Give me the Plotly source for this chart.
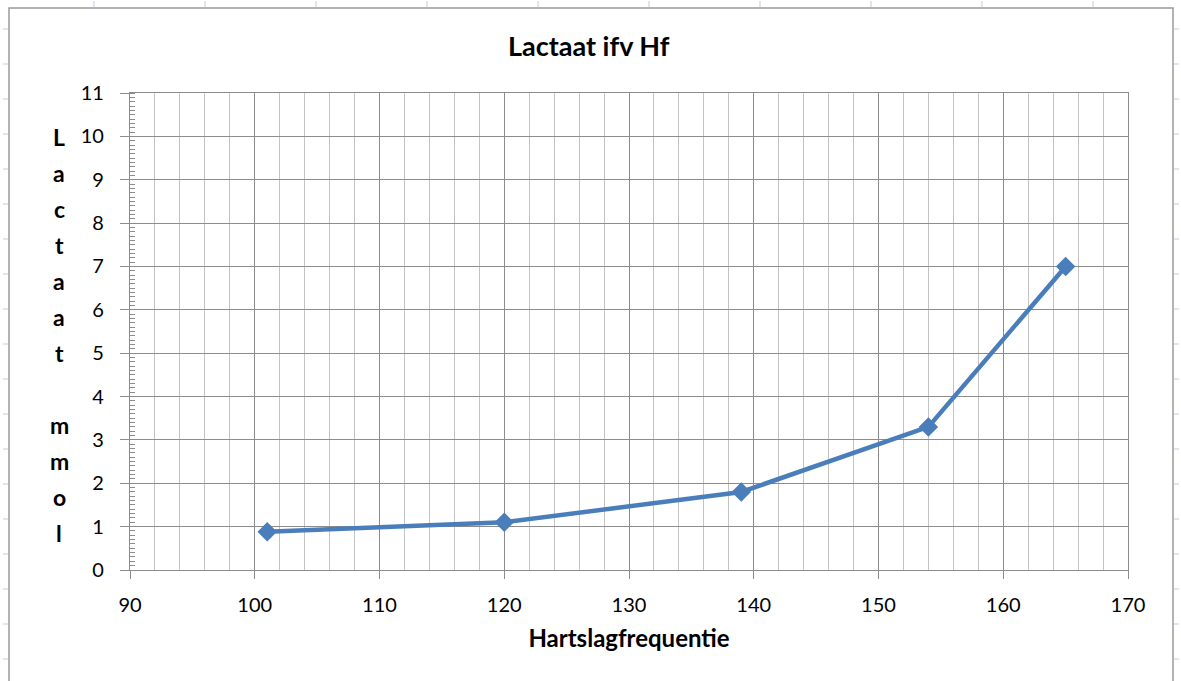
import plotly.graph_objects as go

# Heart rate (beats/min) and blood lactate (mmol/l)
hartslag = [101, 120, 139, 154, 165]
lactaat = [0.88, 1.1, 1.8, 3.3, 7.0]

titel = "Lactaat ifv Hf"
x_titel = "Hartslagfrequentie"
y_titel = "Lactaat mmol"

W, H = 1181, 681
L, R, T, B = 130, 53, 93, 111
FONT = "Lato, 'Open Sans', sans-serif"
BLUE = "#4a7ebb"
MAJOR = "#8c8c8c"
MINOR = "#c4c4c4"


def px(x):
    return (x - L) / (W - L - R)


def py(y):
    return 1 - (y - T) / (H - T - B)


fig = go.Figure()
fig.add_trace(go.Scatter(
    x=hartslag, y=lactaat, mode="lines+markers",
    line=dict(color=BLUE, width=4.5),
    marker=dict(symbol="diamond", size=15, color=BLUE),
    hoverinfo="x+y", showlegend=False,
))

shapes = []
# chart frame
shapes.append(dict(type="rect", xref="paper", yref="paper",
                   x0=px(9), x1=px(1173), y0=py(8), y1=py(690),
                   line=dict(color="#9a9a9a", width=1.5), layer="below"))
# faint worksheet cell marks around the chart frame
cell = "#c9d5e8"
for cx in range(94, 1181, 111):
    shapes.append(dict(type="line", xref="paper", yref="paper",
                       x0=px(cx), x1=px(cx), y0=py(1), y1=py(7),
                       line=dict(color=cell, width=1.2)))
for cy in range(29, 681, 35):
    shapes.append(dict(type="line", xref="paper", yref="paper",
                       x0=px(3), x1=px(8), y0=py(cy), y1=py(cy),
                       line=dict(color=cell, width=1.2)))
    shapes.append(dict(type="line", xref="paper", yref="paper",
                       x0=px(1174), x1=px(1179), y0=py(cy), y1=py(cy),
                       line=dict(color=cell, width=1.2)))

annotations = [dict(text="<b>" + titel + "</b>", xref="paper", yref="paper",
                    x=px(589), y=py(45), xanchor="center", yanchor="middle",
                    showarrow=False,
                    font=dict(family=FONT, size=27, color="#000"))]

# vertical, letter-by-letter y-axis title
y0, step = 137, 36
for i, ch in enumerate(y_titel):
    if ch == " ":
        continue
    annotations.append(dict(text="<b>" + ch + "</b>", xref="paper", yref="paper",
                            x=px(59), y=py(y0 + i * step),
                            xanchor="center", yanchor="middle", showarrow=False,
                            font=dict(family=FONT, size=23, color="#000")))

fig.update_layout(
    width=W, height=H,
    margin=dict(l=L, r=R, t=T, b=B),
    paper_bgcolor="white", plot_bgcolor="white",
    shapes=shapes, annotations=annotations,
    font=dict(family=FONT, size=20, color="#000"),
    xaxis=dict(
        range=[90, 170], dtick=10, tick0=90,
        showgrid=True, gridcolor=MAJOR, gridwidth=1,
        showline=True, linecolor=MAJOR, linewidth=1.3, mirror=True,
        ticks="outside", ticklen=8, tickcolor=MAJOR,
        ticklabelstandoff=9,
        minor=dict(dtick=2, showgrid=True, gridcolor=MINOR, gridwidth=1.4, ticks=""),
        zeroline=False, fixedrange=True,
        title=dict(text="<b>" + x_titel + "</b>", standoff=15,
                   font=dict(family=FONT, size=24, color="#000")),
    ),
    yaxis=dict(
        range=[0, 11], dtick=1, tick0=0,
        showgrid=True, gridcolor=MAJOR, gridwidth=1,
        showline=True, linecolor=MAJOR, linewidth=1.3, mirror=True,
        ticks="outside", ticklen=9, tickcolor=MAJOR,
        ticklabelstandoff=12,
        minor=dict(dtick=0.1, ticks="inside", ticklen=5, tickcolor=MAJOR, showgrid=False),
        zeroline=False, fixedrange=True,
    ),
)

fig.write_html("out.html")
